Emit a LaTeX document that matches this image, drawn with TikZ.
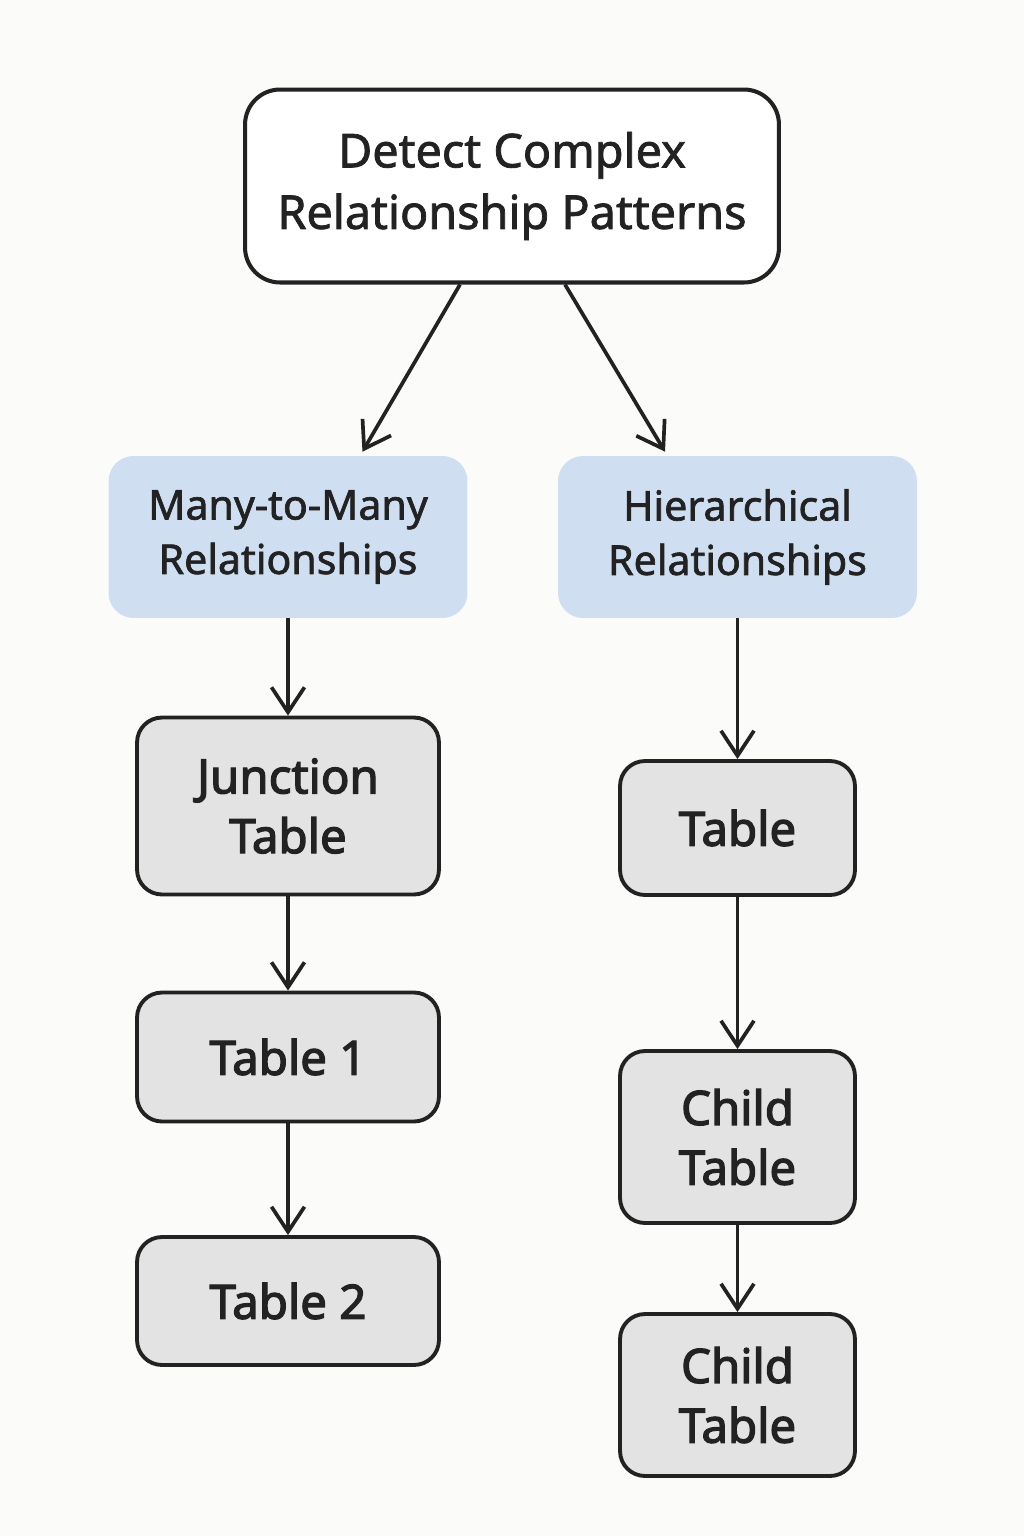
\documentclass[tikz,border=0pt]{standalone}
\usepackage{fontspec}
\setmainfont{Noto Sans}
\usetikzlibrary{arrows.meta}
\definecolor{bgcol}{HTML}{FBFBF9}
\definecolor{inkcol}{HTML}{222222}
\definecolor{bluecol}{HTML}{CFDFF1}
\definecolor{graycol}{HTML}{E3E3E3}
\newfontfamily\labelfont[FakeBold=1.6]{Noto Sans}
\newfontfamily\boxfont[FakeBold=2.6]{Noto Sans}

\begin{document}
\begin{tikzpicture}[
  x=0.02cm, y=-0.02cm,
  topbox/.style={draw=inkcol, line width=2.3pt, fill=white, rounded corners=0.7cm,
    minimum width=10.68cm, minimum height=3.86cm, align=center, text=inkcol,
    font=\labelfont\fontsize{26.6}{35}\selectfont},
  catbox/.style={fill=bluecol, rounded corners=0.5cm, minimum width=7.18cm,
    minimum height=3.24cm, align=center, text=inkcol,
    font=\labelfont\fontsize{23.4}{31}\selectfont},
  tblbox/.style={draw=inkcol, line width=2.2pt, fill=graycol, rounded corners=0.5cm,
    align=center, text=inkcol, font=\boxfont\fontsize{27}{34}\selectfont},
  arr/.style={draw=inkcol, line width=2.1pt, -{Straight Barb[length=0.5cm, width=0.66cm, line width=2.1pt]}}
]
\useasboundingbox [fill=bgcol] (0,0) rectangle (1024,1536);

\node [topbox] (detect) at (512,186) {Detect Complex\\Relationship Patterns};
\node [catbox] (many) at (288,537) {Many-to-Many\\Relationships};
\node [catbox] (hier) at (737.5,537) {Hierarchical\\Relationships};

% left column
\node [tblbox, minimum width=6.04cm, minimum height=3.54cm] (junc) at (288,806) {Junction\\Table};
\node [tblbox, minimum width=6.04cm, minimum height=2.58cm] (tabone) at (288,1057) {Table 1};
\node [tblbox, minimum width=6.04cm, minimum height=2.56cm] (tabtwo) at (288,1301) {Table 2};

% right column
\node [tblbox, minimum width=4.7cm, minimum height=2.68cm] (tab) at (737.5,828) {Table};
\node [tblbox, minimum width=4.7cm, minimum height=3.44cm] (childa) at (737.5,1137) {Child\\Table};
\node [tblbox, minimum width=4.7cm, minimum height=3.24cm] (childb) at (737.5,1395) {Child\\Table};

\draw [arr] ([xshift=-1.04cm]detect.south) -- ([xshift=1.49cm, yshift=0.08cm]many.north);
\draw [arr] ([xshift=1.06cm]detect.south) -- ([xshift=-1.45cm, yshift=0.08cm]hier.north);
\draw [arr] (many) -- (junc);
\draw [arr] (junc) -- (tabone);
\draw [arr] (tabone) -- (tabtwo);
\draw [arr] (hier) -- (tab);
\draw [arr] (tab) -- (childa);
\draw [arr] (childa) -- (childb);
\end{tikzpicture}
\end{document}
